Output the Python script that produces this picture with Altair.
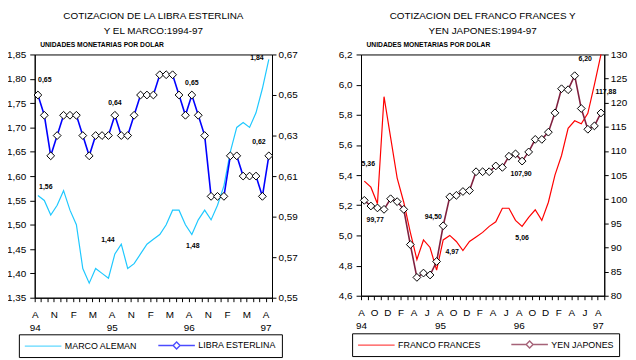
import json
import altair as alt
import pandas as pd

# ---------------- data (monthly, Aug 1994 .. Aug 1997) ----------------
MONTH_IDX = list(range(37))
MARCO = [1.56, 1.55, 1.52, 1.54, 1.57, 1.53, 1.50, 1.41, 1.38, 1.41, 1.40, 1.39, 1.44,
         1.46, 1.41, 1.42, 1.44, 1.46, 1.47, 1.48, 1.50, 1.53, 1.53, 1.50, 1.48, 1.51,
         1.53, 1.51, 1.54, 1.58, 1.65, 1.70, 1.71, 1.70, 1.73, 1.78, 1.84]
LIBRA = [0.65, 0.64, 0.62, 0.63, 0.64, 0.64, 0.64, 0.63, 0.62, 0.63, 0.63, 0.63, 0.64,
         0.63, 0.63, 0.64, 0.65, 0.65, 0.65, 0.66, 0.66, 0.66, 0.65, 0.64, 0.65, 0.64,
         0.63, 0.60, 0.60, 0.60, 0.62, 0.62, 0.61, 0.61, 0.61, 0.60, 0.62]
FRANCO = [5.36, 5.32, 5.21, 5.92, 5.65, 5.38, 5.22, 5.02, 4.84, 4.97, 4.92, 4.77, 4.97,
          5.00, 4.96, 4.90, 4.96, 4.99, 5.02, 5.06, 5.09, 5.18, 5.18, 5.10, 5.06, 5.12,
          5.17, 5.10, 5.22, 5.40, 5.53, 5.71, 5.76, 5.74, 5.81, 6.00, 6.20]
YEN = [99.77, 98.6, 98.2, 97.9, 100.1, 99.5, 97.9, 90.6, 83.8, 84.7, 84.3, 87.1, 94.5,
       100.5, 100.8, 101.6, 101.8, 105.7, 105.7, 105.7, 106.9, 106.6, 108.9, 109.4, 107.9, 109.8,
       112.4, 112.4, 113.9, 117.9, 122.9, 122.7, 125.6, 118.8, 114.5, 115.2, 117.88]

LEFT_X_LABELS = ["A", "N", "F", "M", "A", "N", "F", "M", "A", "N", "F", "M", "A"]
RIGHT_X_LABELS = ["A", "O", "D", "F", "A", "J", "A", "O", "D", "F", "A", "J", "A",
                  "O", "D", "F", "A", "J", "A"]
YEAR_LABELS = ["94", "95", "96", "97"]
MARCO_TICKS = [1.35, 1.40, 1.45, 1.50, 1.55, 1.60, 1.65, 1.70, 1.75, 1.80, 1.85]
LIBRA_TICKS = [0.55, 0.57, 0.59, 0.61, 0.63, 0.65, 0.67]
FRANCO_TICKS = [4.6, 4.8, 5.0, 5.2, 5.4, 5.6, 5.8, 6.0, 6.2]
YEN_TICKS = [80, 85, 90, 95, 100, 105, 110, 115, 120, 125, 130]
LABEL_IDX = [0, 12, 24, 36]

LEFT_TITLE = ["COTIZACION DE LA LIBRA ESTERLINA", "Y EL MARCO:1994-97"]
RIGHT_TITLE = ["COTIZACION DEL FRANCO FRANCES Y", "YEN JAPONES:1994-97"]
UNITS = "UNIDADES MONETARIAS POR DOLAR"
LEFT_SERIES = ["MARCO ALEMAN", "LIBRA ESTERLINA"]
RIGHT_SERIES = ["FRANCO FRANCES", "YEN JAPONES"]

# ---------------- styling ----------------
FONT = "Liberation Sans"
CYAN = "#1EC8FF"
BLUE = "#0000FF"
RED = "#FF0000"
MAROON = "#80203F"
# legend symbols: unit r = 5px (symbolSize 100); path spans -1..6.4 units = 37px
LINE_PATH = "M-1,0L6.4,0"
LINE_DIAMOND_PATH = "M-1,0L2.0,0M2.7,-0.7L3.4,0L2.7,0.7L2.0,0ZM3.4,0L6.4,0"


def x_encoding(letters, step):
    vals = [k - 0.5 for k in range(38)]
    L = json.dumps(letters)
    Y = json.dumps(YEAR_LABELS)
    k = "round(datum.value + 0.5)"
    expr = (f"({k} % {step} == 0) ? (({k} % 12 == 0) ? [{L}[{k}/{step}], {Y}[{k}/12]] "
            f": {L}[{k}/{step}]) : ''")
    return alt.X("idx:Q",
                 scale=alt.Scale(domain=[-0.5, 36.5], nice=False, zero=False),
                 axis=alt.Axis(values=vals, labelExpr=expr, title=None, grid=False,
                               tickSize=4, labelPadding=8, labelFontSize=10,
                               labelLineHeight=13, labelOverlap=False, labelFlush=False,
                               labelBound=False, labelAngle=0))


def y_encoding(field, domain, ticks, decimals, orient, units=None):
    ax = dict(values=ticks, orient=orient, grid=False, labelFontSize=10,
              labelExpr=f"replace(format(datum.value, '.{decimals}f'), '.', ',')")
    if orient == "left":
        ax.update(tickSize=5, labelPadding=4)
    else:
        ax.update(tickSize=4, labelPadding=2)
    if units:
        ax.update(title=units, titleAngle=0, titleX=5, titleY=-8, titleAlign="left",
                  titleBaseline="alphabetic", titleFontSize=6.8, titleFontWeight="bold",
                  titleFont=FONT, titleColor="black")
    else:
        ax.update(title=None)
    return alt.Y(f"{field}:Q", scale=alt.Scale(domain=domain, nice=False, zero=False),
                 axis=alt.Axis(**ax))


def label_layers(base, field, decimals, offsets):
    out = []
    for k, (dx, dy) in zip(LABEL_IDX, offsets):
        out.append(base.transform_filter(f"datum.idx == {k}")
                   .transform_calculate(lbl=f"replace(format(datum['{field}'], '.{decimals}f'), '.', ',')")
                   .mark_text(font=FONT, fontSize=7, fontWeight="bold", color="black",
                              dx=dx, dy=dy)
                   .encode(text="lbl:N"))
    return out


def panel(df, a, b, a_dom, b_dom, a_ticks, b_ticks, a_dec, b_dec, b_lab_dec,
          a_color, b_color, series, title, letters, step, w, h,
          a_off, b_off, leg_x, leg_y, leg_colpad):
    xenc = x_encoding(letters, step)
    base_a = alt.Chart(df).encode(x=xenc, y=y_encoding(a, a_dom, a_ticks, a_dec, "left", UNITS))
    base_b = alt.Chart(df).encode(x=xenc, y=y_encoding(b, b_dom, b_ticks, b_dec, "right"))

    layer_a = alt.layer(base_a.mark_line(color=a_color, strokeWidth=1.2),
                        *label_layers(base_a, a, 2, a_off))
    layer_b = alt.layer(base_b.mark_line(color=b_color, strokeWidth=1.6),
                        base_b.mark_point(shape="diamond", filled=True, fill="white",
                                          stroke="black", strokeWidth=1, size=62, opacity=1),
                        *label_layers(base_b, b, b_lab_dec, b_off))

    leg = alt.Legend(title=None, orient="none", legendX=leg_x, legendY=leg_y,
                     direction="horizontal", strokeColor="black", padding=5,
                     symbolSize=100, symbolStrokeWidth=1.4, symbolFillColor="white",
                     labelFont=FONT, labelFontSize=9, labelColor="black", labelOffset=29.5,
                     columnPadding=leg_colpad, labelLimit=200)
    leg_df = pd.DataFrame({"series": series})
    legend_layer = (alt.Chart(leg_df).transform_filter("datum.series == 'none'")
                    .mark_point(filled=False)
                    .encode(color=alt.Color("series:N", scale=alt.Scale(domain=series, range=[a_color, b_color]), legend=leg),
                            shape=alt.Shape("series:N", scale=alt.Scale(domain=series, range=[LINE_PATH, LINE_DIAMOND_PATH]), legend=leg)))

    return (alt.layer(layer_a, layer_b, legend_layer)
            .resolve_scale(y="independent")
            .properties(width=w, height=h,
                        title=alt.TitleParams(text=title, font=FONT, fontSize=10,
                                              fontWeight="normal", anchor="middle",
                                              lineHeight=15, offset=6, color="black")))


left_df = pd.DataFrame({"idx": MONTH_IDX, "marco": MARCO, "libra": LIBRA})
right_df = pd.DataFrame({"idx": MONTH_IDX, "franco": FRANCO, "yen": YEN})

left = panel(left_df, "marco", "libra", [1.35, 1.85], [0.55, 0.67], MARCO_TICKS, LIBRA_TICKS,
             2, 2, 2, CYAN, BLUE, LEFT_SERIES, LEFT_TITLE, LEFT_X_LABELS, 3, 240, 246,
             a_off=[(8, -9), (-7, -14), (1, 12), (-12, -1)],
             b_off=[(7, -15), (0, -12), (0, -12), (-10, -14)],
             leg_x=-16, leg_y=283, leg_colpad=18)

right = panel(right_df, "franco", "yen", [4.6, 6.2], [80, 130], FRANCO_TICKS, YEN_TICKS,
              1, 0, 2, RED, MAROON, RIGHT_SERIES, RIGHT_TITLE, RIGHT_X_LABELS, 2, 246, 244,
              a_off=[(4, -17), (9, 12), (0, 12), (-16, 5)],
              b_off=[(11, 20), (-10, -9), (-1, 13), (5, -21)],
              leg_x=-9, leg_y=282, leg_colpad=27)

chart = (alt.hconcat(left, right, spacing=40)
         .resolve_scale(color="independent", shape="independent")
         .resolve_legend(color="independent", shape="independent")
         .properties(padding={"left": -2, "top": 0, "right": 0, "bottom": 0}, background="white")
         .configure_view(stroke="black", strokeWidth=1)
         .configure_axis(domainColor="black", tickColor="black", labelColor="black",
                         labelFont=FONT, titleFont=FONT, domainWidth=1, tickWidth=1)
         .configure_title(font=FONT))

chart.save("out.html", embed_options={"renderer": "svg", "actions": False})
